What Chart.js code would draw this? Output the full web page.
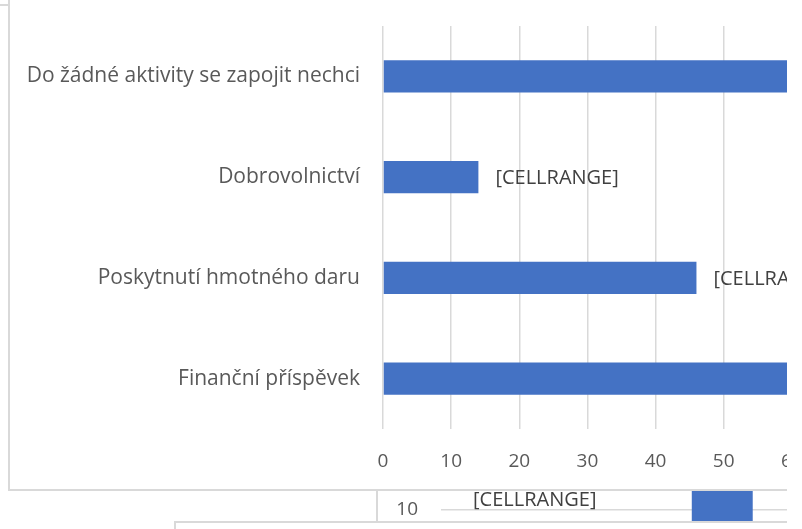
<!DOCTYPE html>
<html>
<head>
<meta charset="utf-8">
<script src="https://cdn.jsdelivr.net/npm/chart.js@4"></script>
<style>
  body { margin: 0; background: #fff; }
  #clip { position: relative; width: 787px; height: 529px; overflow: hidden; background: #fff; }
  .frame { position: absolute; box-sizing: border-box; border: 2px solid #d9d9d9; background: #fff; }
  .frame canvas { position: absolute; }
</style>
</head>
<body>
<div id="clip">
  <div class="frame" style="left:-20px; top:-100px; width:400px; height:106px; z-index:1"></div>
  <div class="frame" style="left:376px; top:300px; width:700px; height:400px; z-index:1">
    <canvas id="lowerChart" width="438" height="220" style="left:0; top:78px"></canvas>
  </div>
  <div class="frame" style="left:8px; top:-20px; width:1000px; height:511px; z-index:2">
    <canvas id="mainChart" width="950" height="489" style="left:0; top:18px"></canvas>
  </div>
  <div class="frame" style="left:174px; top:521px; width:800px; height:100px; z-index:3"></div>
</div>
<script>
// main chart data (top to bottom)
const categories = [
    'Do žádné aktivity se zapojit nechci',
    'Dobrovolnictví',
    'Poskytnutí hmotného daru',
    'Finanční příspěvek'
];
const responses = [70, 14, 46, 76];
const dataLabels = ['[CELLRANGE]', '[CELLRANGE]', '[CELLRANGE]', '[CELLRANGE]'];
const axisMin = 0;
const axisMax = 80;
const axisStep = 10;

// the chart peeking out underneath
const lowerCategories = ['A', 'B'];
const lowerValues = [0, 30];
const lowerLabelLevels = [12.5, null];
const lowerLabels = ['[CELLRANGE]', ''];
const lowerMax = 40;

const fontFamily = 'Open Sans';
const catFont = { family: fontFamily, size: 21 };
const tickFont = { family: fontFamily, size: 19 };
const labelFont = '20px "' + fontFamily + '"';
const blue = '#4472C4';
const grey = '#d9d9d9';

function noEdgePadding(s) {
    s.paddingTop = 0;
    s.paddingBottom = 0;
}

const mainLabels = {
    id: 'mainLabels',
    afterDatasetsDraw(chart) {
        const ctx = chart.ctx;
        ctx.save();
        ctx.font = labelFont;
        ctx.fillStyle = '#404040';
        ctx.textAlign = 'left';
        ctx.textBaseline = 'middle';
        chart.getDatasetMeta(0).data.forEach((bar, i) => {
            ctx.fillText(dataLabels[i], bar.x + 17, bar.y + 1);
        });
        ctx.restore();
    }
};

new Chart(document.getElementById('mainChart'), {
    type: 'bar',
    data: {
        labels: categories,
        datasets: [{
            data: responses,
            backgroundColor: blue,
            categoryPercentage: 1,
            barPercentage: 0.32
        }]
    },
    options: {
        indexAxis: 'y',
        responsive: false,
        animation: false,
        layout: { padding: { top: 26, right: 28.6, bottom: 0, left: 0 } },
        plugins: { legend: { display: false }, tooltip: { enabled: false } },
        scales: {
            x: {
                min: axisMin,
                max: axisMax,
                ticks: { stepSize: axisStep, color: '#595959', font: tickFont, padding: 21 },
                grid: { color: grey, lineWidth: 1.5, drawTicks: false },
                border: { display: false },
                afterFit(s) { s.height = 60; }
            },
            y: {
                ticks: { color: '#595959', font: catFont, padding: 23 },
                grid: { display: false, drawTicks: false },
                border: { display: false },
                afterFit(s) { s.width = 373; noEdgePadding(s); }
            }
        }
    },
    plugins: [mainLabels]
});

const lowerLabelPlugin = {
    id: 'lowerLabels',
    afterDatasetsDraw(chart) {
        const ctx = chart.ctx;
        const yScale = chart.scales.y;
        ctx.save();
        ctx.font = labelFont;
        ctx.fillStyle = '#404040';
        ctx.textAlign = 'center';
        ctx.textBaseline = 'middle';
        chart.getDatasetMeta(0).data.forEach((bar, i) => {
            if (lowerLabelLevels[i] == null) return;
            ctx.fillText(lowerLabels[i], bar.x, yScale.getPixelForValue(lowerLabelLevels[i]));
        });
        ctx.restore();
    }
};

new Chart(document.getElementById('lowerChart'), {
    type: 'bar',
    data: {
        labels: lowerCategories,
        datasets: [{
            data: lowerValues,
            backgroundColor: blue,
            categoryPercentage: 1,
            barPercentage: 0.325
        }]
    },
    options: {
        responsive: false,
        animation: false,
        layout: { padding: { top: 10, right: 0, bottom: 50, left: 0 } },
        plugins: { legend: { display: false }, tooltip: { enabled: false } },
        scales: {
            x: { display: false },
            y: {
                min: 0,
                max: lowerMax,
                ticks: { stepSize: axisStep, color: '#595959', font: tickFont, padding: 23 },
                grid: { color: grey, lineWidth: 1.5, drawTicks: false },
                border: { display: false },
                afterFit(s) { s.width = 63; noEdgePadding(s); }
            }
        }
    },
    plugins: [lowerLabelPlugin]
});
</script>
</body>
</html>
